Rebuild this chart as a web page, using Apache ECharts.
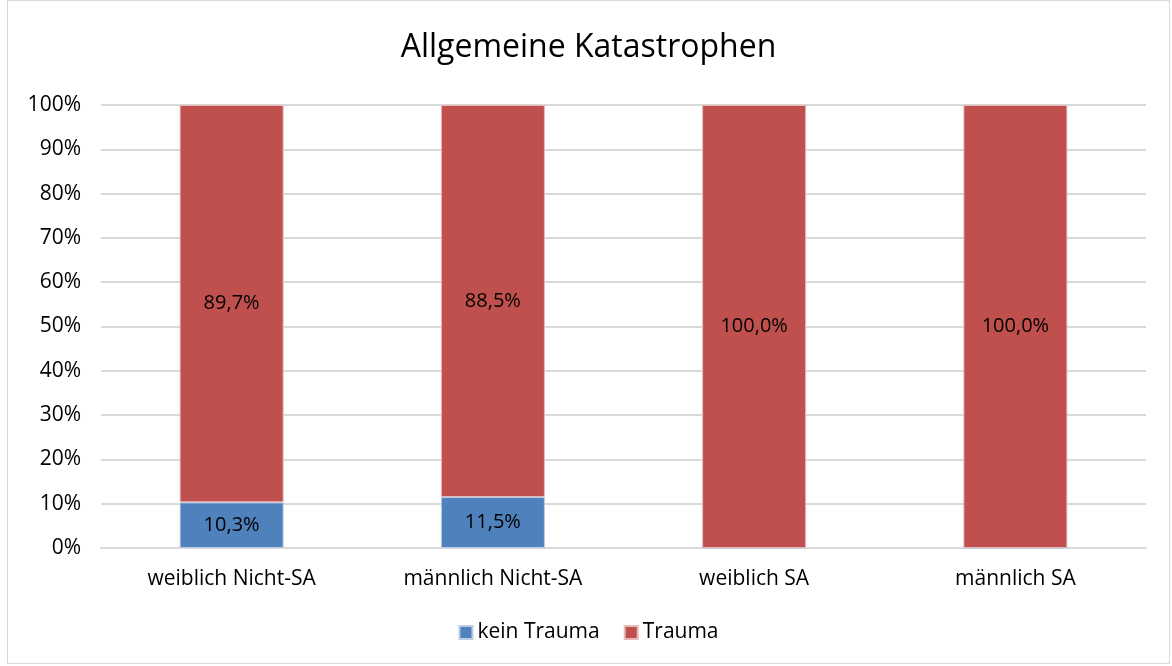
<!DOCTYPE html>
<html>
<head>
<meta charset="utf-8">
<script src="https://cdn.jsdelivr.net/npm/echarts@6/dist/echarts.min.js"></script>
<style>
html, body { margin: 0; padding: 0; background: #fff; }
#container { position: absolute; left: 7px; top: 0px; width: 1163px; height: 664px; border: 1px solid #d9d9d9; box-sizing: border-box; }
</style>
</head>
<body>
<div id="container"></div>
<script>
// Daten
var categories = ['weiblich Nicht-SA', 'männlich Nicht-SA', 'weiblich SA', 'männlich SA'];
var keinTrauma = [10.3, 11.5, 0, 0];
var trauma = [89.7, 88.5, 100, 100];

var dom = document.getElementById("container");
var myChart = echarts.init(dom);
var font = '"Open Sans", "Noto Sans", sans-serif';

function fmt(p) {
    if (!p.value) return '';
    return p.value.toFixed(1).replace('.', ',') + '%';
}

var option = {
    animation: false,
    title: {
        text: 'Allgemeine Katastrophen',
        left: 'center',
        top: 26,
        textStyle: { fontFamily: font, fontSize: 32, fontWeight: 'normal', color: '#000' }
    },
    legend: {
        bottom: 15,
        left: 'center',
        itemWidth: 13,
        itemHeight: 13,
        itemGap: 24,
        icon: 'rect',
        textStyle: { fontFamily: font, fontSize: 21, color: '#000' },
        data: ['kein Trauma', 'Trauma']
    },
    grid: { left: 93, right: 23, top: 104, bottom: 115 },
    xAxis: {
        type: 'category',
        data: categories,
        axisLine: { lineStyle: { color: '#d9d9d9', width: 2 } },
        axisTick: { show: false },
        axisLabel: { fontFamily: font, fontSize: 21, color: '#000', margin: 21 }
    },
    yAxis: {
        type: 'value',
        min: 0,
        max: 100,
        interval: 10,
        axisLine: { show: false },
        axisTick: { show: false },
        splitLine: { lineStyle: { color: '#d9d9d9', width: 2 } },
        axisLabel: { fontFamily: font, fontSize: 21, color: '#000', margin: 20, formatter: '{value}%' }
    },
    series: [{
        name: 'kein Trauma',
        type: 'bar',
        stack: 'a',
        barWidth: 104,
        data: keinTrauma,
        itemStyle: { color: '#4f81bd', borderColor: '#b9cde5', borderWidth: 1 },
        label: { show: true, position: 'inside', formatter: fmt, fontFamily: font, fontSize: 20, color: '#000' }
    }, {
        name: 'Trauma',
        type: 'bar',
        stack: 'a',
        barWidth: 104,
        data: trauma,
        itemStyle: { color: '#c0504d', borderColor: '#e6b9b8', borderWidth: 1 },
        label: { show: true, position: 'inside', formatter: fmt, fontFamily: font, fontSize: 20, color: '#000' }
    }]
};
myChart.setOption(option);
</script>
</body>
</html>
